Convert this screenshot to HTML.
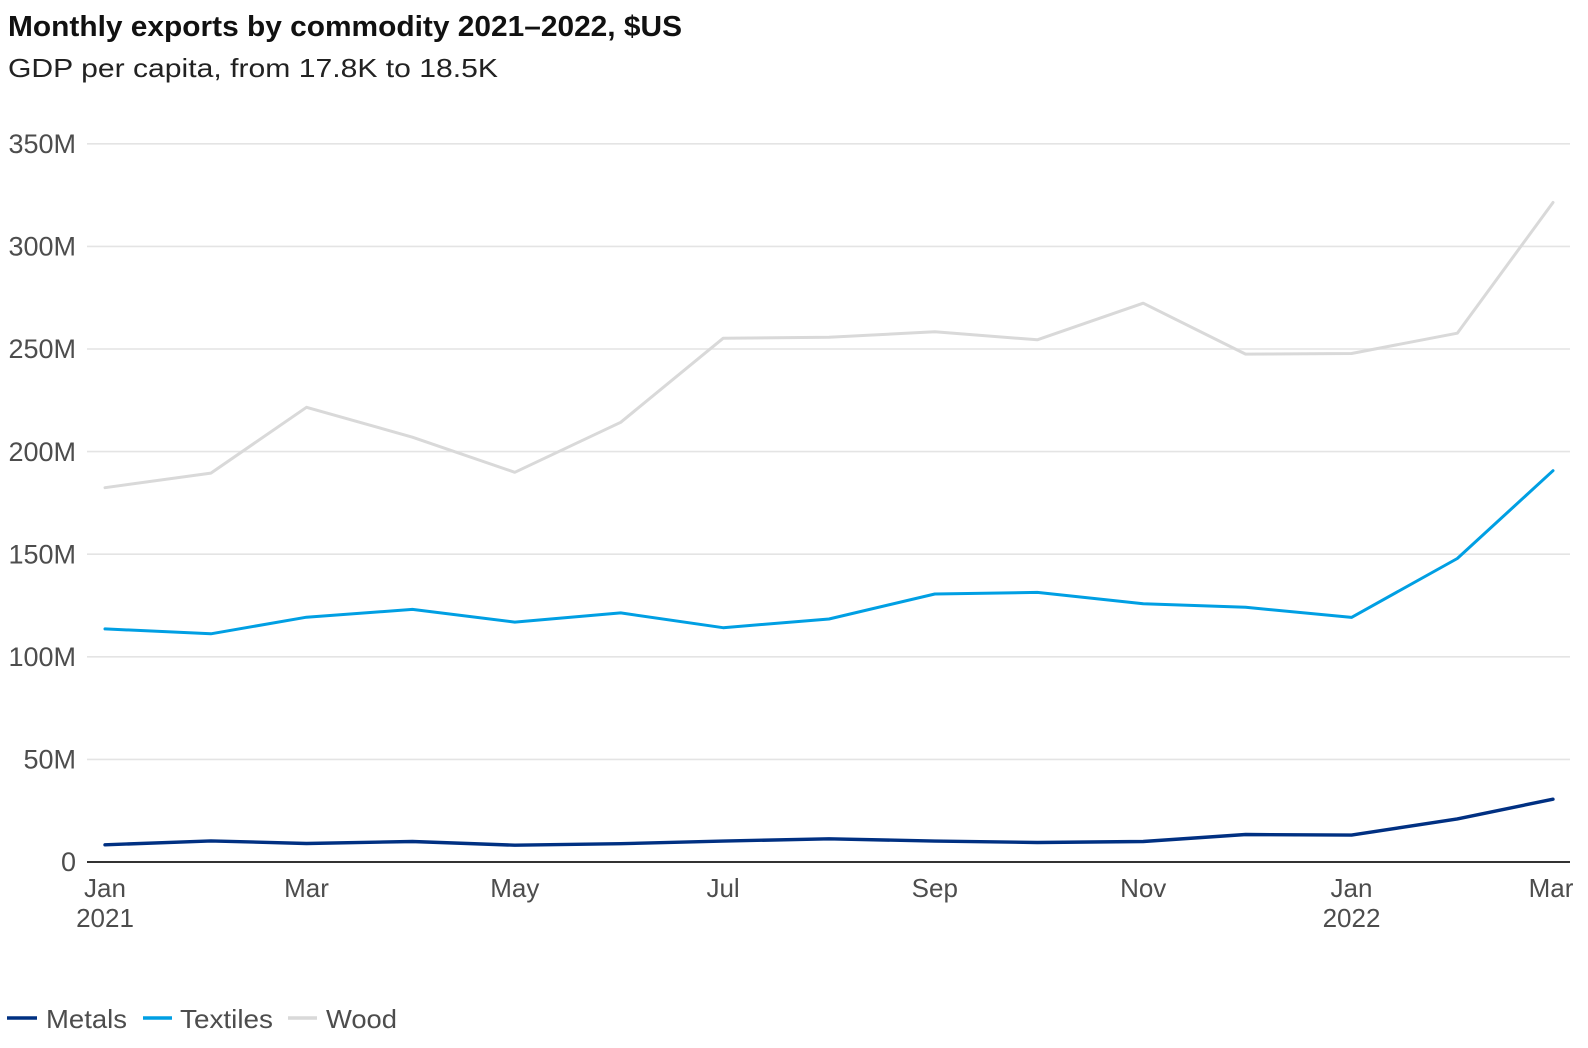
<!DOCTYPE html>
<html>
<head>
<meta charset="utf-8">
<style>
  html, body { margin: 0; padding: 0; background: #ffffff; }
  body { width: 1588px; height: 1048px; overflow: hidden; }
  svg { display: block; }
  text { font-family: "Liberation Sans", "DejaVu Sans", sans-serif; }
</style>
</head>
<body>
<svg width="1588" height="1048" viewBox="0 0 1588 1048" xmlns="http://www.w3.org/2000/svg">
  <!-- Title -->
  <text x="8" y="36" font-size="29" font-weight="bold" fill="#111" textLength="674" lengthAdjust="spacingAndGlyphs">Monthly exports by commodity 2021–2022, $US</text>
  <text x="8" y="77" font-size="26" fill="#222" textLength="490" lengthAdjust="spacingAndGlyphs">GDP per capita, from 17.8K to 18.5K</text>

  <!-- Gridlines -->
  <g stroke="#e4e4e4" stroke-width="1.6">
    <line x1="87" y1="143.8" x2="1570" y2="143.8"/>
    <line x1="87" y1="246.4" x2="1570" y2="246.4"/>
    <line x1="87" y1="349" x2="1570" y2="349"/>
    <line x1="87" y1="451.6" x2="1570" y2="451.6"/>
    <line x1="87" y1="554.2" x2="1570" y2="554.2"/>
    <line x1="87" y1="656.8" x2="1570" y2="656.8"/>
    <line x1="87" y1="759.4" x2="1570" y2="759.4"/>
  </g>
  <line x1="87" y1="862" x2="1570" y2="862" stroke="#333" stroke-width="2"/>

  <!-- Y labels -->
  <g font-size="27" fill="#4d4d4d" text-anchor="end">
    <text x="76" y="153">350M</text>
    <text x="76" y="255.6">300M</text>
    <text x="76" y="358.2">250M</text>
    <text x="76" y="460.8">200M</text>
    <text x="76" y="563.4">150M</text>
    <text x="76" y="666">100M</text>
    <text x="76" y="768.6">50M</text>
    <text x="76" y="871.2">0</text>
  </g>

  <!-- X labels -->
  <g font-size="26" fill="#4d4d4d" text-anchor="middle">
    <text x="105" y="897">Jan</text>
    <text x="105" y="927">2021</text>
    <text x="306.5" y="897">Mar</text>
    <text x="514.8" y="897">May</text>
    <text x="723.1" y="897">Jul</text>
    <text x="934.8" y="897">Sep</text>
    <text x="1143.2" y="897">Nov</text>
    <text x="1351.5" y="897">Jan</text>
    <text x="1351.5" y="927">2022</text>
    <text x="1551" y="897">Mar</text>
  </g>

  <!-- Series -->
  <g fill="none" stroke-linejoin="round" stroke-linecap="round">
    <polyline stroke="#d9d9d9" stroke-width="3"
      points="105,487.7 210.9,473.1 306.5,407.3 412.4,437.2 514.8,472.3 620.7,422.3 723.1,338.3 829,337.3 934.8,331.8 1037.3,339.8 1143.2,303.2 1245.6,354.1 1351.5,353.5 1457.3,333.2 1553,202.5"/>
    <polyline stroke="#009fe3" stroke-width="3"
      points="105,628.9 210.9,633.8 306.5,617.2 412.4,609.4 514.8,622.1 620.7,612.9 723.1,627.7 829,619 934.8,594 1037.3,592.4 1143.2,603.7 1245.6,607.3 1351.5,617.4 1457.3,558.5 1553,470.7"/>
    <polyline stroke="#003082" stroke-width="3.4"
      points="105,844.8 210.9,840.9 306.5,843.5 412.4,841.5 514.8,845.2 620.7,843.7 723.1,841.1 829,838.8 934.8,841.1 1037.3,842.5 1143.2,841.5 1245.6,834.5 1351.5,835.1 1457.3,818.9 1553,799.2"/>
  </g>

  <!-- Legend -->
  <g stroke-width="3.4" stroke-linecap="butt">
    <line x1="7" y1="1018" x2="37" y2="1018" stroke="#003082"/>
    <line x1="143" y1="1018" x2="172" y2="1018" stroke="#009fe3"/>
    <line x1="288" y1="1018" x2="317" y2="1018" stroke="#d9d9d9"/>
  </g>
  <g font-size="26" fill="#4d4d4d">
    <text x="46" y="1028" textLength="81" lengthAdjust="spacingAndGlyphs">Metals</text>
    <text x="180" y="1028" textLength="93" lengthAdjust="spacingAndGlyphs">Textiles</text>
    <text x="326" y="1028" textLength="71" lengthAdjust="spacingAndGlyphs">Wood</text>
  </g>
</svg>
</body>
</html>
